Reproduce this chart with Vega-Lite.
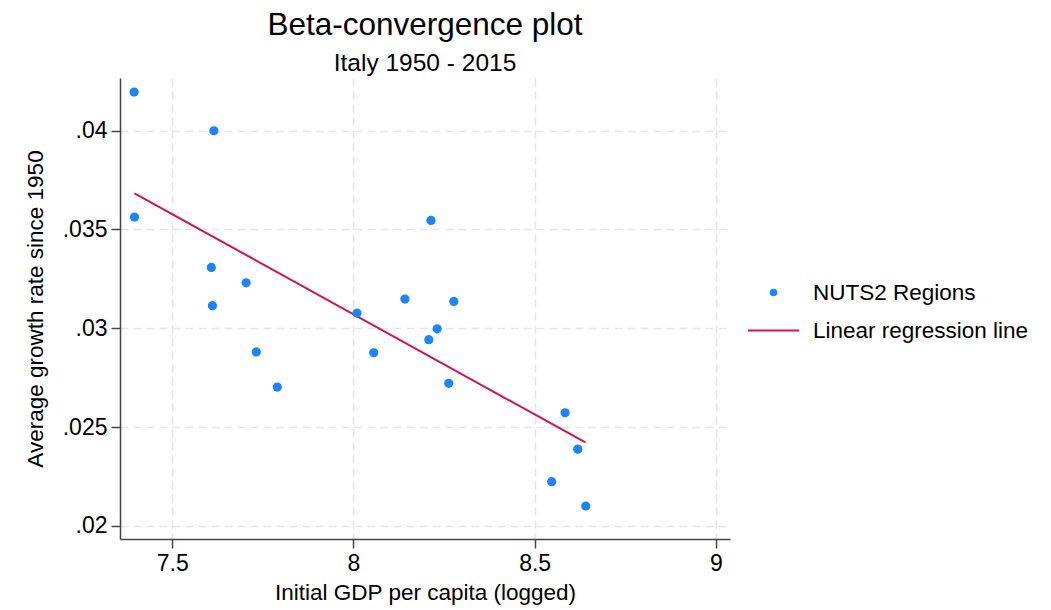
{
  "$schema": "https://vega.github.io/schema/vega-lite/v6.json",
  "width": 610,
  "height": 461,
  "autosize": {"type": "none"},
  "padding": {"left": 120, "top": 78, "right": 321, "bottom": 71},
  "background": "white",
  "title": {
    "text": "Beta-convergence plot",
    "subtitle": "Italy 1950 - 2015",
    "anchor": "middle",
    "frame": "group",
    "font": "Liberation Sans",
    "fontSize": 31.5,
    "fontWeight": "normal",
    "color": "#000000",
    "subtitleFont": "Liberation Sans",
    "subtitleFontSize": 24.5,
    "subtitleColor": "#000000",
    "subtitlePadding": 10,
    "offset": 3
  },
  "datasets": {
    "regions": [
      {"gdp": 7.395, "growth": 0.04196, "series": "NUTS2 Regions"},
      {"gdp": 7.615, "growth": 0.04000, "series": "NUTS2 Regions"},
      {"gdp": 7.396, "growth": 0.03563, "series": "NUTS2 Regions"},
      {"gdp": 7.608, "growth": 0.03308, "series": "NUTS2 Regions"},
      {"gdp": 7.704, "growth": 0.03230, "series": "NUTS2 Regions"},
      {"gdp": 7.611, "growth": 0.03114, "series": "NUTS2 Regions"},
      {"gdp": 7.732, "growth": 0.02880, "series": "NUTS2 Regions"},
      {"gdp": 7.790, "growth": 0.02702, "series": "NUTS2 Regions"},
      {"gdp": 8.214, "growth": 0.03546, "series": "NUTS2 Regions"},
      {"gdp": 8.142, "growth": 0.03148, "series": "NUTS2 Regions"},
      {"gdp": 8.277, "growth": 0.03136, "series": "NUTS2 Regions"},
      {"gdp": 8.010, "growth": 0.03077, "series": "NUTS2 Regions"},
      {"gdp": 8.231, "growth": 0.02997, "series": "NUTS2 Regions"},
      {"gdp": 8.208, "growth": 0.02942, "series": "NUTS2 Regions"},
      {"gdp": 8.056, "growth": 0.02876, "series": "NUTS2 Regions"},
      {"gdp": 8.263, "growth": 0.02721, "series": "NUTS2 Regions"},
      {"gdp": 8.584, "growth": 0.02572, "series": "NUTS2 Regions"},
      {"gdp": 8.619, "growth": 0.02388, "series": "NUTS2 Regions"},
      {"gdp": 8.547, "growth": 0.02223, "series": "NUTS2 Regions"},
      {"gdp": 8.641, "growth": 0.02100, "series": "NUTS2 Regions"}
    ],
    "fit": [
      {"gdp": 7.396, "growth": 0.03683, "series": "Linear regression line"},
      {"gdp": 8.640, "growth": 0.02422, "series": "Linear regression line"}
    ]
  },
  "config": {
    "view": {"stroke": null},
    "font": "Liberation Sans",
    "axis": {
      "labelFont": "Liberation Sans",
      "titleFont": "Liberation Sans",
      "labelFontSize": 23,
      "titleFontSize": 22.5,
      "titleFontWeight": "normal",
      "labelColor": "#000000",
      "titleColor": "#000000",
      "domainColor": "#444444",
      "domainWidth": 1.5,
      "tickColor": "#444444",
      "tickWidth": 1.5,
      "tickSize": 9,
      "gridColor": "#e6e6e6",
      "gridWidth": 1.6,
      "gridDash": [8, 5]
    }
  },
  "encoding": {
    "x": {
      "field": "gdp",
      "type": "quantitative",
      "scale": {"domain": [7.356, 9.039], "nice": false, "zero": false},
      "axis": {
        "title": "Initial GDP per capita (logged)",
        "values": [7.5, 8, 8.5, 9],
        "format": "~g",
        "labelPadding": 4,
        "titlePadding": 6
      }
    },
    "y": {
      "field": "growth",
      "type": "quantitative",
      "scale": {"domain": [0.01933, 0.04267], "nice": false, "zero": false},
      "axis": {
        "title": "Average growth rate since 1950",
        "values": [0.02, 0.025, 0.03, 0.035, 0.04],
        "labelExpr": "substring(format(datum.value, '.3~f'), 1)",
        "labelPadding": 4,
        "titlePadding": 15
      }
    },
    "color": {
      "field": "series",
      "type": "nominal",
      "scale": {
        "domain": ["NUTS2 Regions", "Linear regression line"],
        "range": ["#1a85ff", "#d41159"]
      },
      "legend": {
        "title": null,
        "orient": "none",
        "legendX": 627,
        "legendY": 188,
        "padding": 0,
        "labelFont": "Liberation Sans",
        "labelFontSize": 22.5,
        "labelColor": "#000000",
        "labelLimit": 400,
        "labelOffset": 13,
        "symbolSize": 100,
        "rowPadding": -14,
        "encode": {
          "symbols": {
            "update": {
              "shape": {"signal": "datum.value === 'NUTS2 Regions' ? 'circle' : 'stroke'"},
              "size": {"signal": "datum.value === 'NUTS2 Regions' ? 32 : 2601"},
              "fill": {"signal": "datum.value === 'NUTS2 Regions' ? '#1a85ff' : 'transparent'"},
              "stroke": {"signal": "datum.value === 'NUTS2 Regions' ? 'transparent' : '#d41159'"},
              "strokeWidth": {"value": 2},
              "opacity": {"value": 1}
            }
          }
        }
      }
    }
  },
  "layer": [
    {
      "data": {"name": "fit"},
      "mark": {"type": "line", "strokeWidth": 2},
      "encoding": {}
    },
    {
      "data": {"name": "regions"},
      "mark": {"type": "point", "filled": true, "opacity": 1, "size": 85, "shape": "circle"},
      "encoding": {}
    }
  ]
}
